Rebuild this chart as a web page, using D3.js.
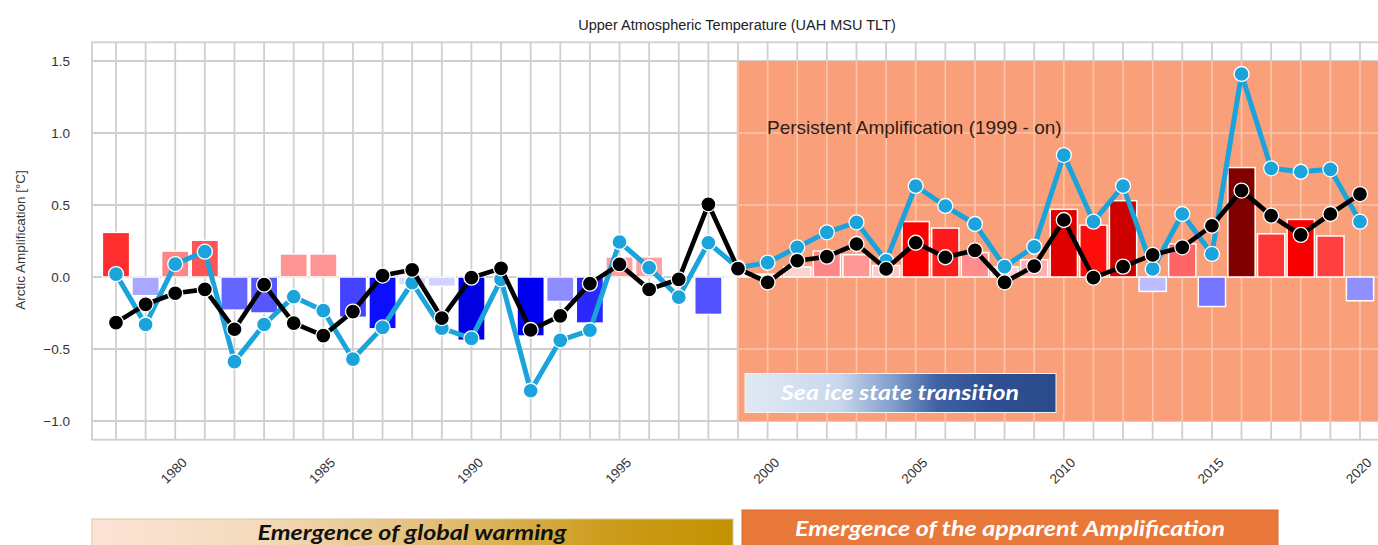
<!DOCTYPE html>
<html>
<head>
<meta charset="utf-8">
<script src="https://cdn.jsdelivr.net/npm/d3@7"></script>
<style>
  html, body { margin: 0; padding: 0; background: #fff; }
  svg { display: block; }
</style>
</head>
<body>
<svg id="chart" width="1378" height="545"></svg>
<script>
// Years on the horizontal axis
const years = d3.range(1978, 2021);

// Yearly amplification anomaly (bars), °C
const barValues = [
  0.31, -0.13, 0.18, 0.255, -0.23, -0.25, 0.16, 0.16, -0.28, -0.36,
  -0.055, -0.065, -0.44, 0.0, -0.41, -0.17, -0.32, 0.14, 0.14, 0.0,
  -0.26, 0.02, 0.02, 0.07, 0.18, 0.155, 0.08, 0.385, 0.34, 0.17,
  0.07, 0.12, 0.47, 0.36, 0.53, -0.10, 0.23, -0.205, 0.76, 0.30,
  0.40, 0.285, -0.165
];

// Blue series, °C
const blueValues = [
  0.02, -0.33, 0.09, 0.176, -0.588, -0.33, -0.137, -0.234, -0.57, -0.35,
  -0.04, -0.356, -0.426, -0.016, -0.79, -0.44, -0.37, 0.243, 0.065, -0.14,
  0.238, 0.065, 0.10, 0.206, 0.31, 0.38, 0.113, 0.632, 0.493, 0.368,
  0.072, 0.21, 0.847, 0.384, 0.632, 0.056, 0.4375, 0.16, 1.41, 0.755,
  0.731, 0.748, 0.384
];

// Black series, °C
const blackValues = [
  -0.317, -0.19, -0.113, -0.086, -0.363, -0.053, -0.32, -0.407, -0.24, 0.01,
  0.05, -0.285, -0.005, 0.06, -0.368, -0.27, -0.046, 0.088, -0.086, -0.016,
  0.505, 0.058, -0.037, 0.113, 0.141, 0.229, 0.056, 0.238, 0.137, 0.185,
  -0.037, 0.076, 0.396, -0.005, 0.072, 0.153, 0.206, 0.356, 0.60, 0.426,
  0.292, 0.4375, 0.576
];

// Tick labels
const yTicks = [-1.0, -0.5, 0.0, 0.5, 1.0, 1.5];
const xTickYears = [1980, 1985, 1990, 1995, 2000, 2005, 2010, 2015, 2020];

// Annotations
const titleText = "Upper Atmospheric Temperature (UAH MSU TLT)";
const yLabelText = "Arctic Amplification [°C]";
const periodText = "Persistent Amplification (1999 - on)";
const periodStart = 1999;
const seaIceText = "Sea ice state transition";
const banner1Text = "Emergence of global warming";
const banner2Text = "Emergence of the apparent Amplification";

const svg = d3.select("#chart");
const sans = "Liberation Sans, Arial, sans-serif";

const x = d3.scaleLinear().domain([1977.19, 2020.8]).range([92, 1383.7]);
const y = d3.scaleLinear().domain([-1.13, 1.63]).range([439.7, 42.3]);

// diverging red/blue colour map for the bars
const barColor = d3.scaleLinear()
  .domain([-0.76, -0.38, 0, 0.38, 0.76])
  .range(["#00004d", "#0000ff", "#ffffff", "#ff0000", "#800000"])
  .clamp(true);

const defs = svg.append("defs");
defs.append("clipPath").attr("id", "plotClip")
  .append("rect")
  .attr("x", x.range()[0]).attr("y", y.range()[1])
  .attr("width", x.range()[1] - x.range()[0])
  .attr("height", y.range()[0] - y.range()[1]);

const gSea = defs.append("linearGradient").attr("id", "seaGrad");
[["0%", "#e1e9f5"], ["30%", "#cad8ec"], ["48%", "#7f9ccb"], ["62%", "#3e61a3"], ["80%", "#2d4f91"], ["100%", "#2b4a8b"]]
  .forEach(([o, c]) => gSea.append("stop").attr("offset", o).attr("stop-color", c));

const gB1 = defs.append("linearGradient").attr("id", "b1Grad");
[["0%", "#fbe4d6"], ["25%", "#f4dbbd"], ["55%", "#e2bd72"], ["80%", "#cc9c1c"], ["100%", "#c39200"]]
  .forEach(([o, c]) => gB1.append("stop").attr("offset", o).attr("stop-color", c));

const grid = svg.append("g").attr("clip-path", "url(#plotClip)");
const gridColor = "#cfcfcf";

// grid lines
grid.selectAll("line.v").data(years).join("line")
  .attr("class", "v")
  .attr("x1", d => x(d)).attr("x2", d => x(d))
  .attr("y1", y.range()[1]).attr("y2", y.range()[0])
  .attr("stroke", gridColor).attr("stroke-width", 1.8);
grid.selectAll("line.h").data(yTicks).join("line")
  .attr("class", "h")
  .attr("x1", x.range()[0]).attr("x2", x.range()[1])
  .attr("y1", d => y(d)).attr("y2", d => y(d))
  .attr("stroke", gridColor).attr("stroke-width", 1.8);

// shaded period from 1999 onward
const shadeX0 = x(periodStart - 0.04);
grid.append("rect")
  .attr("x", shadeX0).attr("y", y(1.5))
  .attr("width", x.range()[1] - shadeX0)
  .attr("height", y(-1.0) - y(1.5))
  .attr("fill", "#f9a07a");

// lighter grid lines showing through the shaded period
grid.selectAll("line.vs").data(years.filter(d => d >= periodStart)).join("line")
  .attr("class", "vs")
  .attr("x1", d => x(d)).attr("x2", d => x(d))
  .attr("y1", y(1.5)).attr("y2", y(-1.0))
  .attr("stroke", "#fcc5ab").attr("stroke-width", 1.6);
grid.selectAll("line.hs").data(yTicks.filter(d => d > -1 && d < 1.5)).join("line")
  .attr("class", "hs")
  .attr("x1", shadeX0).attr("x2", x.range()[1])
  .attr("y1", d => y(d)).attr("y2", d => y(d))
  .attr("stroke", "#fcc5ab").attr("stroke-width", 1.6);

// frame
svg.append("rect")
  .attr("x", x.range()[0]).attr("y", y.range()[1])
  .attr("width", x.range()[1] - x.range()[0])
  .attr("height", y.range()[0] - y.range()[1])
  .attr("fill", "none").attr("stroke", gridColor).attr("stroke-width", 1.8);

// bars
const barW = x(1978.92) - x(1978);
const plot = svg.append("g").attr("clip-path", "url(#plotClip)");
plot.selectAll("rect.bar").data(years).join("rect")
  .attr("class", "bar")
  .attr("x", (d) => x(d) - barW / 2)
  .attr("y", (d, i) => y(Math.max(0, barValues[i])))
  .attr("width", barW)
  .attr("height", (d, i) => Math.abs(y(barValues[i]) - y(0)))
  .attr("fill", (d, i) => barColor(barValues[i]))
  .attr("stroke", "#ffffff").attr("stroke-width", 1.5);

// line series with markers
function series(values, color, lw) {
  const line = d3.line().x((d, i) => x(years[i])).y(d => y(d));
  plot.append("path").datum(values)
    .attr("d", line)
    .attr("fill", "none").attr("stroke", color)
    .attr("stroke-width", lw).attr("stroke-linejoin", "round");
  plot.append("g").selectAll("circle").data(values).join("circle")
    .attr("cx", (d, i) => x(years[i])).attr("cy", d => y(d))
    .attr("r", 7.5)
    .attr("fill", color).attr("stroke", "#ffffff").attr("stroke-width", 1.3);
}
series(blueValues, "#1ba3dc", 5);
series(blackValues, "#000000", 4.6);

// y axis labels
svg.append("g").selectAll("text").data(yTicks).join("text")
  .attr("x", 70).attr("y", d => y(d) + 5)
  .attr("text-anchor", "end")
  .attr("font-family", sans)
  .attr("font-size", 13.5).attr("fill", "#333")
  .text(d => d3.format(".1f")(d).replace("-", "\u2212"));

svg.append("text")
  .attr("transform", `translate(25, 240) rotate(-90)`)
  .attr("text-anchor", "middle")
  .attr("font-family", sans)
  .attr("font-size", 13.5).attr("fill", "#333")
  .text(yLabelText);

// x axis labels, rotated
svg.append("g").selectAll("text").data(xTickYears).join("text")
  .attr("transform", d => `translate(${x(d) + 2}, ${474}) rotate(-45)`)
  .attr("text-anchor", "middle")
  .attr("font-family", sans)
  .attr("font-size", 13.5).attr("fill", "#333")
  .text(d => d);

// title
svg.append("text")
  .attr("x", 737).attr("y", 30)
  .attr("text-anchor", "middle")
  .attr("font-family", sans)
  .attr("font-size", 14.5).attr("fill", "#222")
  .text(titleText);

// period annotation
svg.append("text")
  .attr("x", 767).attr("y", 134)
  .attr("font-family", sans)
  .attr("font-size", 19).attr("fill", "#2e1e17")
  .text(periodText);

// sea ice box
svg.append("rect")
  .attr("x", 745).attr("y", 373.5).attr("width", 311).attr("height", 39)
  .attr("fill", "url(#seaGrad)").attr("stroke", "#f3f3f3").attr("stroke-width", 1);
svg.append("text")
  .attr("x", 900).attr("y", 400)
  .attr("text-anchor", "middle")
  .attr("font-family", "Lato, Open Sans, sans-serif")
  .attr("font-weight", 700).attr("font-style", "italic")
  .attr("font-size", 21).attr("fill", "#ffffff")
  .attr("textLength", 238).attr("lengthAdjust", "spacingAndGlyphs")
  .text(seaIceText);

// bottom banners
svg.append("rect")
  .attr("x", 92).attr("y", 519).attr("width", 641).attr("height", 40)
  .attr("fill", "url(#b1Grad)").attr("stroke", "#d9c6a8").attr("stroke-width", 1);
svg.append("text")
  .attr("x", 412).attr("y", 540)
  .attr("text-anchor", "middle")
  .attr("font-family", "Lato, Open Sans, sans-serif")
  .attr("font-weight", 700).attr("font-style", "italic")
  .attr("font-size", 21).attr("fill", "#111")
  .attr("textLength", 309).attr("lengthAdjust", "spacingAndGlyphs")
  .text(banner1Text);

svg.append("rect")
  .attr("x", 742).attr("y", 510).attr("width", 536).attr("height", 45)
  .attr("fill", "#e8793b").attr("stroke", "#d8692e").attr("stroke-width", 1);
svg.append("text")
  .attr("x", 1010).attr("y", 536)
  .attr("text-anchor", "middle")
  .attr("font-family", "Lato, Open Sans, sans-serif")
  .attr("font-weight", 700).attr("font-style", "italic")
  .attr("font-size", 21).attr("fill", "#ffffff")
  .attr("textLength", 430).attr("lengthAdjust", "spacingAndGlyphs")
  .text(banner2Text);
</script>
</body>
</html>
